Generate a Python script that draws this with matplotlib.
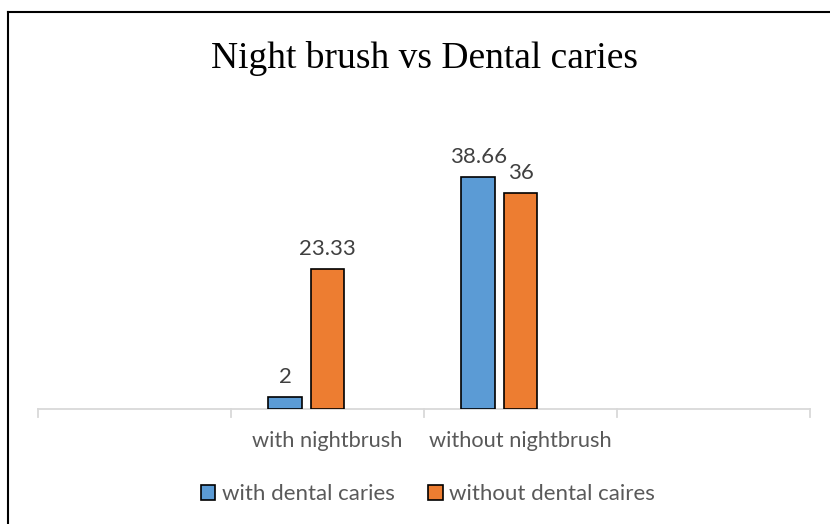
import numpy as np
import matplotlib.pyplot as plt
from matplotlib.lines import Line2D

# Night brushing habit vs dental caries (percent)
categories = ["", "with nightbrush", "without nightbrush", ""]
with_caries = [2, 38.66]
without_caries = [23.33, 36]
series_names = ["with dental caries", "without dental caires"]

blue = "#5B9BD5"
orange = "#ED7D31"
label_font = "Lato"

fig = plt.figure(figsize=(8.3, 5.24), dpi=100)
ax = fig.add_axes([38 / 830, 115 / 524, 772 / 830, 270 / 524])

pos = np.array([1, 2])
width = 0.175
b1 = ax.bar(pos - 0.219, with_caries, width, color=blue, edgecolor="black",
            linewidth=1.2, label=series_names[0], zorder=3)
b2 = ax.bar(pos, without_caries, width, color=orange, edgecolor="black",
            linewidth=1.2, label=series_names[1], zorder=3)

for bars in (b1, b2):
    ax.bar_label(bars, labels=[f"{v:g}" for v in bars.datavalues], padding=7,
                 fontsize=16, color="#404040", family=label_font)

ax.set_xlim(-0.5, 3.5)
ax.set_ylim(0, 45)
ax.set_yticks([])
ax.set_xticks([])
for s in ["top", "right", "left"]:
    ax.spines[s].set_visible(False)
ax.spines["bottom"].set_color("#D9D9D9")
ax.spines["bottom"].set_linewidth(1.3)

# category separators below the axis line
for x in np.arange(-0.5, 3.6, 1):
    ax.plot([x, x], [0, -1.35], color="#D9D9D9", lw=1.3, clip_on=False)
for i, c in enumerate(categories):
    if c:
        ax.text(i, -3.6, c, ha="center", va="top", fontsize=15.7,
                color="#595959", family=label_font)

fig.text(424 / 830, 1 - 58 / 524, "Night brush vs Dental caries",
         ha="center", va="center", fontsize=27, family="Liberation Serif")

fig.legend(handles=[b1, b2], loc="center", bbox_to_anchor=(428 / 830, 1 - 494 / 524),
           ncol=2, frameon=False, handlelength=0.65, handleheight=0.65,
           handletextpad=0.3, columnspacing=1.5, labelcolor="#595959",
           prop={"family": label_font, "size": 16})

# chart border (top and left edges)
fig.add_artist(Line2D([8 / 830, 1], [1 - 12 / 524] * 2, color="black", lw=1.5))
fig.add_artist(Line2D([8 / 830] * 2, [0, 1 - 12 / 524], color="black", lw=1.5))

fig.savefig("out.png", dpi=100)
